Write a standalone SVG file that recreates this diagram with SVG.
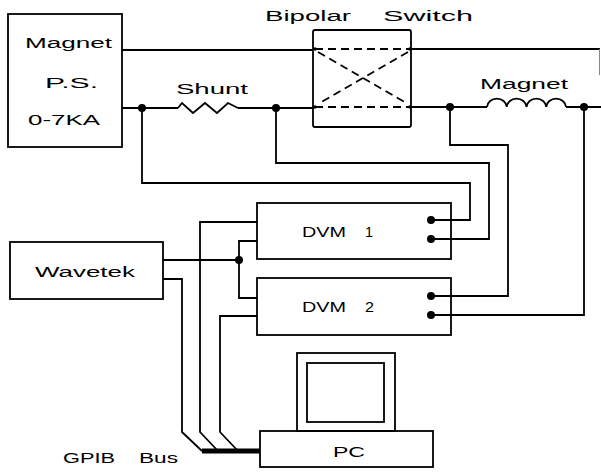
<svg xmlns="http://www.w3.org/2000/svg" width="601" height="472" viewBox="0 0 601 472">
<style>
  .box{fill:none;stroke:#000;stroke-width:1.8}
  .w{fill:none;stroke:#000;stroke-width:1.8;stroke-linejoin:miter}
  .dash{fill:none;stroke:#000;stroke-width:1.8;stroke-dasharray:8 5}
  .dot{fill:#000}
  .t{font-family:"Liberation Sans",Arial,sans-serif;font-size:14px;fill:#000}
</style>
<rect width="601" height="472" fill="#fff"/>

<g id="magnet-ps">
  <rect class="box" x="8" y="14" width="114" height="133"/>
  <text class="t" x="25" y="48" textLength="87" lengthAdjust="spacingAndGlyphs">Magnet</text>
  <text class="t" x="45" y="88" textLength="53" lengthAdjust="spacingAndGlyphs">P.S.</text>
  <text class="t" x="28" y="125" textLength="72" lengthAdjust="spacingAndGlyphs">0-7KA</text>
</g>

<g id="shunt">
  <path class="w" d="M178,108 L182,103 L193,113 L205,103 L217,113 L228,103 L238,108"/>
  <text class="t" x="176" y="94" textLength="72" lengthAdjust="spacingAndGlyphs">Shunt</text>
</g>

<g id="bipolar-switch">
  <rect class="box" x="313" y="30" width="98" height="97" rx="2"/>
  <path class="dash" d="M315,49 H410 M315,107 H410 M318,52 L408,104 M408,52 L318,104"/>
  <circle class="dot" cx="315" cy="49" r="1.8"/>
  <circle class="dot" cx="410" cy="49" r="1.8"/>
  <circle class="dot" cx="315" cy="107" r="1.8"/>
  <circle class="dot" cx="410" cy="107" r="1.8"/>
  <text class="t" x="265" y="21" textLength="86" lengthAdjust="spacingAndGlyphs">Bipolar</text>
  <text class="t" x="383" y="21" textLength="90" lengthAdjust="spacingAndGlyphs">Switch</text>
</g>

<g id="magnet">
  <path class="w" d="M487,107 a9.9,9 0 0 1 19.75,0 a9.9,9 0 0 1 19.75,0 a9.9,9 0 0 1 19.75,0 a9.9,9 0 0 1 19.75,0"/>
  <text class="t" x="480" y="89" textLength="88" lengthAdjust="spacingAndGlyphs">Magnet</text>
</g>

<g id="wavetek">
  <rect class="box" x="10" y="242" width="153" height="57"/>
  <text class="t" x="35" y="277" textLength="100" lengthAdjust="spacingAndGlyphs">Wavetek</text>
</g>

<g id="dvm1">
  <rect class="box" x="257" y="203" width="194" height="56"/>
  <text class="t" x="302" y="237" textLength="44" lengthAdjust="spacingAndGlyphs">DVM</text>
  <text class="t" x="365" y="237" textLength="8" lengthAdjust="spacingAndGlyphs">1</text>
  <circle class="dot" cx="431" cy="220" r="4"/>
  <circle class="dot" cx="431" cy="239" r="4"/>
</g>

<g id="dvm2">
  <rect class="box" x="257" y="278" width="194" height="57"/>
  <text class="t" x="302" y="312" textLength="44" lengthAdjust="spacingAndGlyphs">DVM</text>
  <text class="t" x="365" y="312" textLength="9" lengthAdjust="spacingAndGlyphs">2</text>
  <circle class="dot" cx="431" cy="296" r="4"/>
  <circle class="dot" cx="431" cy="315" r="4"/>
</g>

<g id="pc">
  <rect class="box" x="297" y="353" width="98" height="78"/>
  <rect class="box" x="307" y="363" width="77" height="59"/>
  <rect class="box" x="260" y="431" width="173" height="36"/>
  <text class="t" x="333" y="457" textLength="32" lengthAdjust="spacingAndGlyphs">PC</text>
</g>

<g id="gpib-label">
  <text class="t" x="63" y="463" textLength="52" lengthAdjust="spacingAndGlyphs">GPIB</text>
  <text class="t" x="139" y="463" textLength="39" lengthAdjust="spacingAndGlyphs">Bus</text>
</g>

<g id="connectors">
  <path class="w" d="M122,50 H313"/>
  <path class="w" d="M411,49 H600"/>
  <path d="M599.5,49 V75" stroke="#888" stroke-width="1" fill="none"/>
  <path class="w" d="M122,108 H178 M238,108 H313"/>
  <path class="w" d="M411,107 H487 M566,107 H601"/>
  <circle class="dot" cx="142" cy="108" r="4"/>
  <circle class="dot" cx="276" cy="108" r="4"/>
  <circle class="dot" cx="450" cy="107" r="4"/>
  <circle class="dot" cx="584" cy="107" r="4"/>
  <path class="w" d="M142,108 V183 H470 V220 H431"/>
  <path class="w" d="M276,108 V163 H489 V239 H431"/>
  <path class="w" d="M450,107 V145 H508 V296 H431"/>
  <path class="w" d="M584,107 V315 H431"/>
  <path class="w" d="M163,260 H239"/>
  <circle class="dot" cx="239" cy="260" r="4"/>
  <path class="w" d="M257,241 H239 V298 H257"/>
  <path class="w" d="M163,279 H182 V432 L202,451"/>
  <path class="w" d="M257,222 H200 V432 L218,451"/>
  <path class="w" d="M257,316 H220 V432 L238,451"/>
  <path d="M202,451 H260" stroke="#000" stroke-width="5" fill="none"/>
</g>
</svg>
